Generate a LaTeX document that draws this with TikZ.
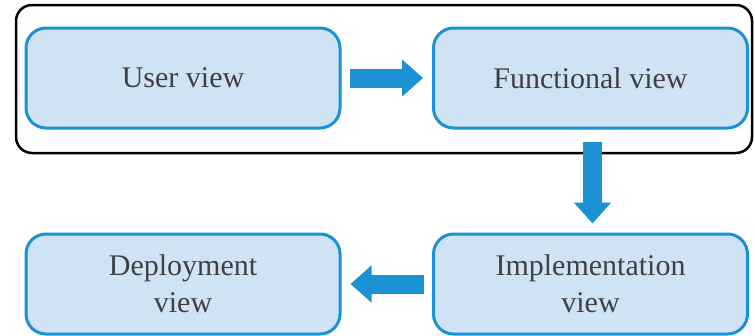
\documentclass[tikz,border=0pt]{standalone}
\usepackage{fontspec}
\setmainfont{Liberation Serif}
\usetikzlibrary{arrows.meta}

\definecolor{viewblue}{HTML}{1B92D3}
\definecolor{viewfill}{HTML}{CFE3F5}
\definecolor{viewtext}{HTML}{404040}

\begin{document}
\begin{tikzpicture}[x=1pt, y=-1pt,
    viewbox/.style={draw=viewblue, line width=3pt, fill=viewfill, rounded corners=20pt,
      minimum width=314pt, minimum height=100pt, align=center, text=viewtext,
      font=\fontsize{30}{37}\selectfont},
    bigarrow/.style={draw=viewblue, line width=19pt,
      -{Triangle[width=36pt, length=21pt]}, shorten <=8pt, shorten >=9pt}]

  \useasboundingbox (0, 0) rectangle (755, 335);

  % \draw (0, 0) rectangle (755, 335);
  \draw[black, line width=2.5pt, rounded corners=16pt] (16, 5) rectangle (752, 153);

  \node[viewbox] (user) at (183, 78) {User view};
  \node[viewbox] (func) at (590.5, 78) {Functional view};
  \node[viewbox] (impl) at (590.5, 284) {Implementation\\view};
  \node[viewbox] (deploy) at (183, 284) {Deployment\\view};

  \draw[bigarrow] (user) -- (func);
  \draw[bigarrow, shorten <=12pt] ([xshift=2pt]func.south) -- ([xshift=2pt]impl.north);
  \draw[bigarrow] (impl) -- (deploy);

\end{tikzpicture}
\end{document}
